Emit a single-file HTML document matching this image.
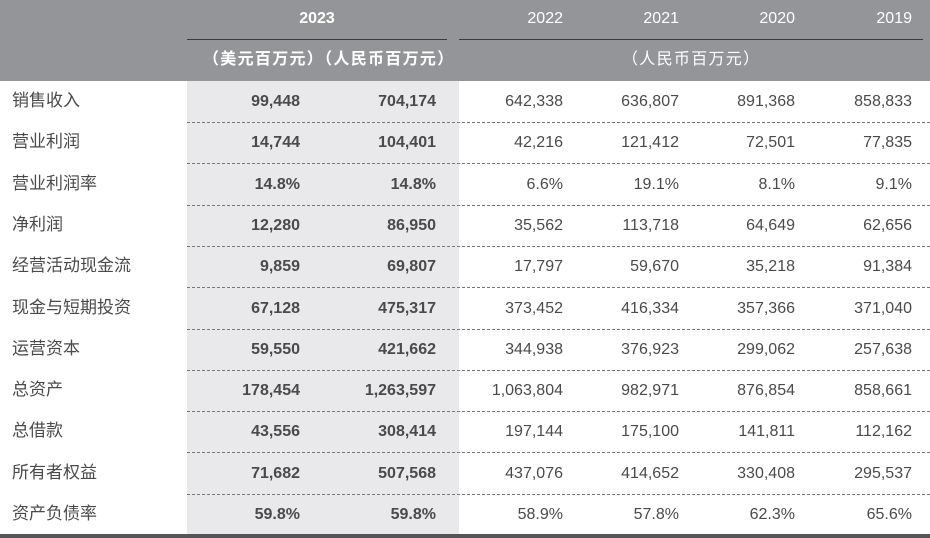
<!DOCTYPE html>
<html><head><meta charset="utf-8"><style>
body{margin:0;width:930px;height:538px;overflow:hidden;background:#fff;font-family:"Liberation Sans","Noto Sans CJK SC",sans-serif;position:relative}
.hd{position:absolute;left:0;top:0;width:930px;height:81px;background:#939598}
.shade{position:absolute;left:187px;top:81px;width:272px;height:455px;background:#e9e9eb}
.t{position:absolute;white-space:nowrap;font-size:16px;color:#4a4a4a;line-height:20px}
.lab{font-size:17px}
.r{text-align:right}
.b{font-weight:bold}
.w{color:#fff}
.hl{position:absolute;height:1px;background:#3a3a3a;top:39px}
.dl{position:absolute;left:187px;width:743px;border-top:1.5px dashed #777}
.bot{position:absolute;left:0;top:534px;width:930px;height:4px;background:#555}
</style></head><body>
<div class="hd"></div>
<div class="shade"></div>
<div class="t w b" style="left:287px;top:9px;width:60px;text-align:center">2023</div>
<div class="hl" style="left:187px;width:260px"></div>
<div class="hl" style="left:459px;width:464px"></div>
<div class="t w r" style="right:367px;top:9px">2022</div>
<div class="t w r" style="right:251px;top:9px">2021</div>
<div class="t w r" style="right:135px;top:9px">2020</div>
<div class="t w r" style="right:18px;top:9px">2019</div>
<div class="t w b" style="left:203px;top:50px;font-size:16px;letter-spacing:1.3px">（美元百万元）（人民币百万元）</div>
<div class="t w" style="left:622px;top:50px;font-size:16px;letter-spacing:1.3px">（人民币百万元）</div>
<div id="rows"></div>
<div class="bot"></div>
<script>
var d=[["销售收入","99,448","704,174","642,338","636,807","891,368","858,833"],
["营业利润","14,744","104,401","42,216","121,412","72,501","77,835"],
["营业利润率","14.8%","14.8%","6.6%","19.1%","8.1%","9.1%"],
["净利润","12,280","86,950","35,562","113,718","64,649","62,656"],
["经营活动现金流","9,859","69,807","17,797","59,670","35,218","91,384"],
["现金与短期投资","67,128","475,317","373,452","416,334","357,366","371,040"],
["运营资本","59,550","421,662","344,938","376,923","299,062","257,638"],
["总资产","178,454","1,263,597","1,063,804","982,971","876,854","858,661"],
["总借款","43,556","308,414","197,144","175,100","141,811","112,162"],
["所有者权益","71,682","507,568","437,076","414,652","330,408","295,537"],
["资产负债率","59.8%","59.8%","58.9%","57.8%","62.3%","65.6%"]];
var R=[630,494,367,251,135,18],h="";
d.forEach(function(r,i){var y=81+i*41.3;var ty=y+11;
h+='<div class="t lab" style="left:12px;top:'+(ty-1)+'px">'+r[0]+'</div>';
for(var j=1;j<7;j++)h+='<div class="t r'+(j<3?' b':'')+'" style="right:'+R[j-1]+'px;top:'+ty+'px">'+r[j]+'</div>';
if(i<10)h+='<div class="dl" style="top:'+(y+41)+'px"></div>';});
document.getElementById("rows").innerHTML=h;
</script>
</body></html>
